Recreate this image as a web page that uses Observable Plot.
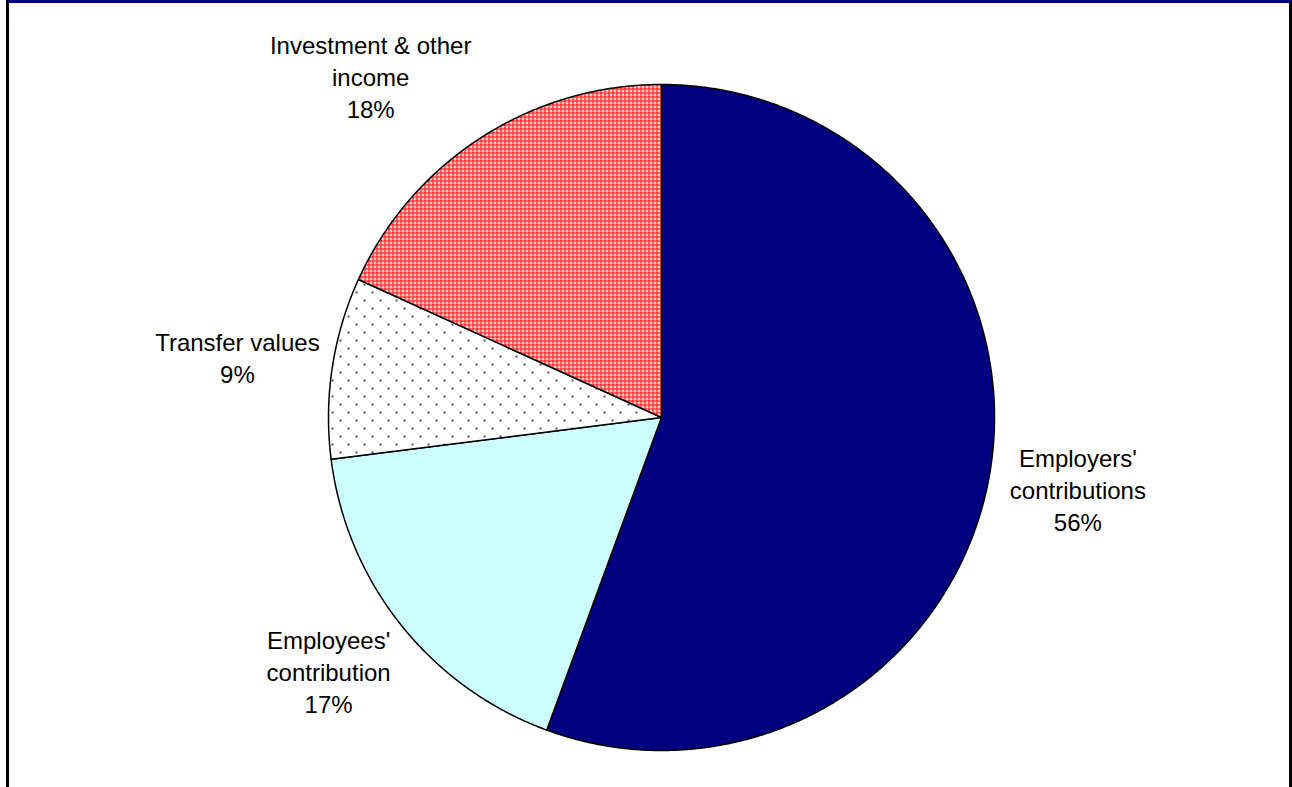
<!DOCTYPE html>
<html><head><meta charset="utf-8">
<script src="https://cdn.jsdelivr.net/npm/d3@7"></script>
<script src="https://cdn.jsdelivr.net/npm/@observablehq/plot@0.6"></script>
<style>
body{margin:0;background:#fff;}
#wrap{position:relative;width:1292px;height:787px;overflow:hidden;}
#chart{position:absolute;left:0;top:0;}
#frame{position:absolute;left:6px;top:0;width:1286px;height:800px;border-top:3px solid #000080;border-left:3px solid #000;border-right:3px solid #000;box-sizing:border-box;pointer-events:none}
</style></head><body><div id="wrap"><div id="chart"></div><div id="frame"></div></div>
<script>
// ---- data ----
const categories = ["Employers' contributions", "Employees' contribution", "Transfer values", "Investment & other income"];
const labelLines = [["Employers'", "contributions"], ["Employees'", "contribution"], ["Transfer values"], ["Investment & other", "income"]];
const shares = [55.6, 17.4, 8.8, 18.2];

// ---- styles / layout ----
const fills = ["#000080", "#CCFFFF", "url(#dots)", "url(#hatch)"];
const labelRx = 1.27, labelRy = 1.22;
const labelShiftPx = [0, -2, -6, -62];
const R = 333, CX = 661, CY = 417;

const arcs = d3.pie().sort(null).value(d => d)(shares);
const total = d3.sum(shares);

const slices = arcs.map((a, i) => {
  const pts = [{x: 0, y: 0}];
  const n = Math.max(2, Math.ceil((a.endAngle - a.startAngle) / (Math.PI / 720)));
  for (let k = 0; k <= n; k++) {
    const t = a.startAngle + (a.endAngle - a.startAngle) * k / n;
    pts.push({x: Math.sin(t), y: Math.cos(t)});
  }
  pts.push({x: 0, y: 0});
  return {name: categories[i], points: pts, fill: fills[i]};
});

const labels = arcs.map((a, i) => {
  const m = (a.startAngle + a.endAngle) / 2;
  return {
    x: labelRx * Math.sin(m) + labelShiftPx[i] / R,
    y: labelRy * Math.cos(m),
    text: [...labelLines[i], Math.round(shares[i] / total * 100) + "%"].join("\n")
  };
});

const defsMark = () => {
  const defs = d3.create("svg:defs");
  const dots = defs.append("pattern").attr("id", "dots").attr("patternUnits", "userSpaceOnUse").attr("width", 16).attr("height", 16);
  dots.append("rect").attr("width", 16).attr("height", 16).attr("fill", "#fff");
  dots.append("rect").attr("x", 3).attr("y", 3).attr("width", 2).attr("height", 2).attr("fill", "#555");
  dots.append("rect").attr("x", 11).attr("y", 11).attr("width", 2).attr("height", 2).attr("fill", "#555");
  const hatch = defs.append("pattern").attr("id", "hatch").attr("patternUnits", "userSpaceOnUse").attr("width", 4).attr("height", 4);
  hatch.append("rect").attr("width", 4).attr("height", 4).attr("fill", "#ff3a3a");
  hatch.append("rect").attr("x", 1).attr("y", 2).attr("width", 3).attr("height", 1).attr("fill", "#fff");
  hatch.append("rect").attr("x", 2).attr("y", 1).attr("width", 1).attr("height", 3).attr("fill", "#fff");
  return defs.node();
};

const chart = Plot.plot({
  width: 1292,
  height: 787,
  margin: 0,
  style: {background: "transparent"},
  x: {domain: [-1, 1], range: [CX - R, CX + R], axis: null},
  y: {domain: [-1, 1], range: [CY + R, CY - R], axis: null},
  marks: [
    defsMark,
    ...slices.map(s => Plot.line(s.points, {x: "x", y: "y", fill: s.fill, stroke: "black", strokeWidth: 1.5, curve: "linear"})),
    Plot.text(labels, {
      x: "x", y: "y", text: "text",
      fontSize: 24, fontFamily: "Liberation Sans, Arial, sans-serif",
      lineHeight: 1.34, lineAnchor: "middle", textAnchor: "middle", fill: "black"
    })
  ]
});
document.getElementById("chart").appendChild(chart);
</script></body></html>
